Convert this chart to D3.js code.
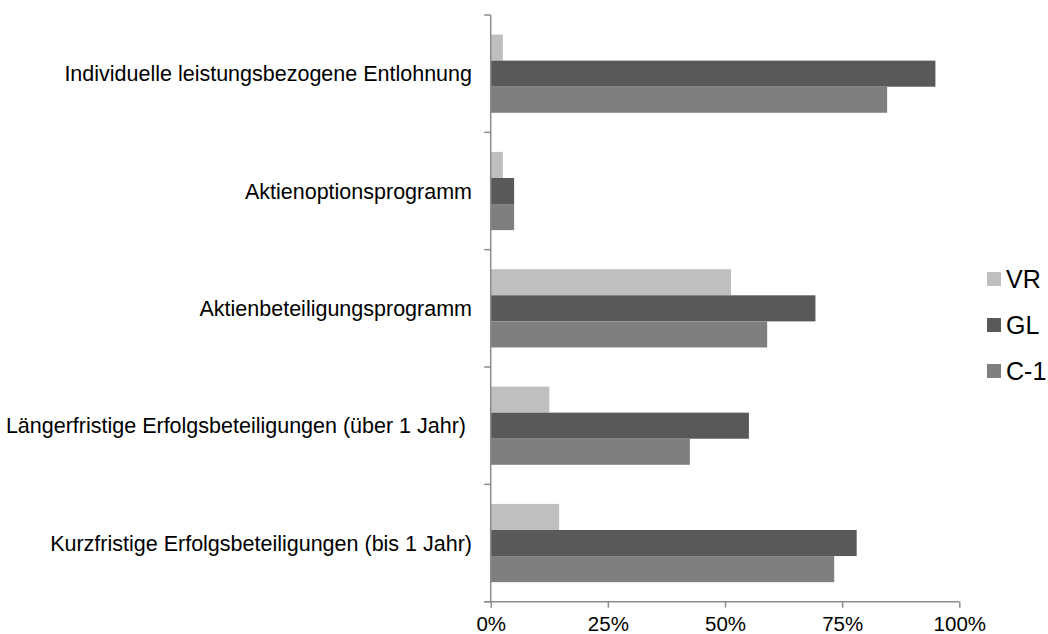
<!DOCTYPE html>
<html>
<head>
<meta charset="utf-8">
<script src="https://cdn.jsdelivr.net/npm/d3@7"></script>
<style>
  html, body { margin: 0; padding: 0; background: #fff; }
  svg { display: block; font-family: "Liberation Sans", Arial, sans-serif; }
</style>
</head>
<body>
<svg id="chart" width="1048" height="634"></svg>
<script>
// Categories, top to bottom
const categories = [
  "Individuelle leistungsbezogene Entlohnung",
  "Aktienoptionsprogramm",
  "Aktienbeteiligungsprogramm",
  "Längerfristige Erfolgsbeteiligungen (über 1 Jahr) ",
  "Kurzfristige Erfolgsbeteiligungen (bis 1 Jahr)"
];
const seriesNames = ["VR", "GL", "C-1"];
const seriesColors = ["#bfbfbf", "#595959", "#7f7f7f"];

// Shares per category (fraction of 1)
const valuesVR = [0.026, 0.026, 0.513, 0.125, 0.146];
const valuesGL = [0.949, 0.050, 0.693, 0.551, 0.781];
const valuesC1 = [0.846, 0.050, 0.590, 0.425, 0.733];
const seriesValues = [valuesVR, valuesGL, valuesC1];

const xTicks = [0, 0.25, 0.5, 0.75, 1];

const svg = d3.select("#chart");
const axisColor = "#8c8c8c";

const x = d3.scaleLinear().domain([0, 1]).range([490.7, 959.3]);
const y0 = d3.scaleBand().domain(categories).range([15, 601.7]);
const y1 = d3.scaleBand().domain(seriesNames)
  .range([0, y0.bandwidth()]).paddingInner(0).paddingOuter(0.75);
const color = d3.scaleOrdinal().domain(seriesNames).range(seriesColors);

// Bars
const rows = categories.map((c, i) => ({
  cat: c,
  vals: seriesNames.map((s, j) => ({ s, v: seriesValues[j][i] }))
}));

const groups = svg.append("g").selectAll("g")
  .data(rows).join("g")
  .attr("transform", d => `translate(0,${y0(d.cat)})`);

groups.selectAll("rect")
  .data(d => d.vals).join("rect")
  .attr("x", x(0))
  .attr("y", d => y1(d.s))
  .attr("width", d => x(d.v) - x(0))
  .attr("height", y1.bandwidth())
  .attr("fill", d => color(d.s));

// Category axis (left): line with tick marks between categories
const yTickPos = categories.map(c => y0(c)).concat([y0.range()[1]]);
const yAxis = svg.append("g");
yAxis.append("line")
  .attr("x1", x(0)).attr("x2", x(0))
  .attr("y1", y0.range()[0]).attr("y2", y0.range()[1])
  .attr("stroke", axisColor).attr("stroke-width", 1.5);
yAxis.selectAll("line.tick")
  .data(yTickPos).join("line")
  .attr("class", "tick")
  .attr("x1", x(0) - 6.5).attr("x2", x(0))
  .attr("y1", d => d).attr("y2", d => d)
  .attr("stroke", axisColor).attr("stroke-width", 1.5);
yAxis.selectAll("text")
  .data(categories).join("text")
  .attr("x", 472)
  .attr("y", d => y0(d) + y0.bandwidth() / 2)
  .attr("dy", "0.35em")
  .attr("text-anchor", "end")
  .attr("font-size", 21.5)
  .attr("fill", "#000")
  .style("white-space", "pre")
  .text(d => d);

// Value axis (bottom)
const xAxisG = svg.append("g")
  .attr("transform", `translate(0,${y0.range()[1]})`)
  .call(d3.axisBottom(x).tickValues(xTicks)
    .tickFormat(d3.format(".0%")).tickSizeInner(6).tickSizeOuter(0));
xAxisG.select(".domain").remove();
xAxisG.append("line")
  .attr("x1", x(0) - 6.5).attr("x2", x(1))
  .attr("y1", 0).attr("y2", 0)
  .attr("stroke", axisColor).attr("stroke-width", 1.5);
xAxisG.selectAll(".tick line").attr("stroke", axisColor).attr("stroke-width", 1.5);
xAxisG.selectAll(".tick text")
  .attr("y", 29)
  .attr("dy", null)
  .attr("font-size", 20.5)
  .attr("font-family", "Liberation Sans, Arial, sans-serif")
  .attr("fill", "#000");

// Legend
const legend = svg.append("g").attr("transform", "translate(987,272)");
const items = legend.selectAll("g")
  .data(seriesNames).join("g")
  .attr("transform", (d, i) => `translate(0,${i * 46})`);
items.append("rect")
  .attr("width", 14).attr("height", 14)
  .attr("fill", d => color(d));
items.append("text")
  .attr("x", 19).attr("y", 7)
  .attr("dy", "0.35em")
  .attr("font-size", 25)
  .attr("fill", "#000")
  .text(d => d);
</script>
</body>
</html>
